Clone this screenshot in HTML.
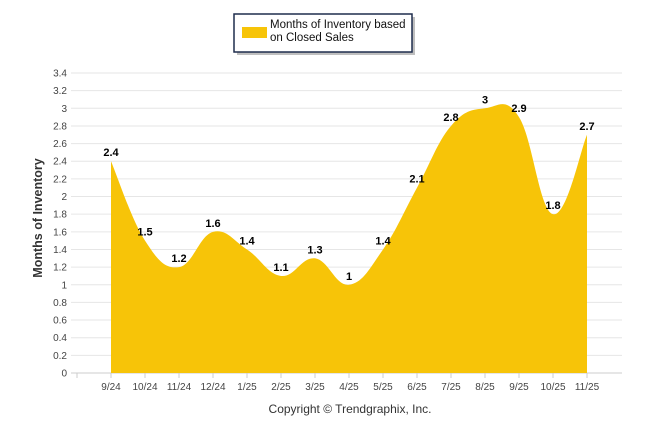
<!DOCTYPE html>
<html><head><meta charset="utf-8"><style>
body{margin:0;background:#fff;font-family:"Liberation Sans",sans-serif}
svg text{font-family:"Liberation Sans",sans-serif}
</style></head><body>
<svg id="c" width="646" height="434">
<g>
<rect x="235" y="15" width="178" height="38" fill="#000" opacity="0.25" transform="translate(2,2)"/>
<rect x="234" y="14" width="178" height="38" fill="#fff" stroke="#1f2d4d" stroke-width="1.5"/>
<rect x="242" y="27" width="25" height="11" fill="#f7c408"/>
<text x="270" y="28" font-size="11.5" fill="#111">Months of Inventory based</text>
<text x="270" y="41" font-size="11.5" fill="#111">on Closed Sales</text>
</g>
<text transform="translate(42,218) rotate(-90)" text-anchor="middle" font-size="12.5" font-weight="bold" fill="#333">Months of Inventory</text>
<text x="350" y="413" text-anchor="middle" font-size="12" fill="#333">Copyright © Trendgraphix, Inc.</text>
<g id="grid"></g><g id="area"></g><g id="labels"></g>
</svg>
<script>
const categories=["9/24","10/24","11/24","12/24","1/25","2/25","3/25","4/25","5/25","6/25","7/25","8/25","9/25","10/25","11/25"];
const values=[2.4,1.5,1.2,1.6,1.4,1.1,1.3,1,1.4,2.1,2.8,3,2.9,1.8,2.7];
const yTicks=[0,0.2,0.4,0.6,0.8,1,1.2,1.4,1.6,1.8,2,2.2,2.4,2.6,2.8,3,3.2,3.4];
const NS="http://www.w3.org/2000/svg";
const X=i=>111+i*34, Y=v=>373-v*300/3.4;
function mk(t,a,p){const e=document.createElementNS(NS,t);for(const k in a)e.setAttribute(k,a[k]);p.appendChild(e);return e;}
const grid=document.getElementById('grid');
yTicks.forEach(v=>{
 const l=mk('line',{x1:71,x2:622,y1:Y(v),y2:Y(v),stroke:v===0?'#ccc':'#e6e6e6'},grid);
 
 
 const t=mk('text',{x:67,y:Y(v)+3.5,'text-anchor':'end','font-size':'10',fill:'#444'},grid);
 t.textContent=v;
 
 
});
for(let i=-1;i<categories.length;i++){mk('line',{x1:X(i),x2:X(i),y1:373,y2:378,stroke:'#ccc'},grid);}
categories.forEach((c,i)=>{
 const t=mk('text',{x:X(i),y:390,'text-anchor':'middle','font-size':'10',fill:'#444'},grid);
 t.textContent=c;
 
 
});
const pts=values.map((v,i)=>[X(i),Y(v)]);
let d=`M${pts[0][0]},373 L${pts[0][0]},${pts[0][1]}`;
for(let i=0;i<pts.length-1;i++){
 const p0=pts[Math.max(0,i-1)],p1=pts[i],p2=pts[i+1],p3=pts[Math.min(pts.length-1,i+2)];
 const t=0.5/3*1.2;
 d+=` C${p1[0]+(p2[0]-p0[0])*t},${p1[1]+(p2[1]-p0[1])*t} ${p2[0]-(p3[0]-p1[0])*t},${p2[1]-(p3[1]-p1[1])*t} ${p2[0]},${p2[1]}`;
}
d+=` L${pts[pts.length-1][0]},373 Z`;
const a=mk('path',{d:d,fill:'#f7c408'},document.getElementById('area'));


const lg=document.getElementById('labels');
values.forEach((v,i)=>{
 const t=mk('text',{x:X(i),y:Y(v)-5,'text-anchor':'middle','font-size':'11','font-weight':'bold',fill:'#000'},lg);
 t.textContent=v;
 
 
});
</script>
</body></html>
